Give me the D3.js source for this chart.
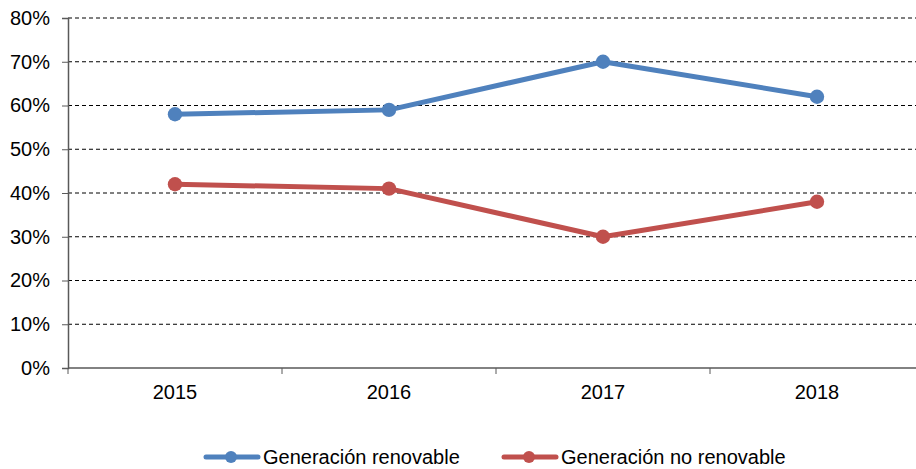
<!DOCTYPE html>
<html>
<head>
<meta charset="utf-8">
<script src="https://cdn.jsdelivr.net/npm/d3@7"></script>
<style>
  body { margin: 0; background: #fff; }
  svg { display: block; font-family: "Liberation Sans", Arial, sans-serif; }
</style>
</head>
<body>
<svg width="916" height="469"></svg>
<script>
var width = 916;
var height = 469;
var margin = {left: 68, top: 18, right: -8, bottom: 101};

// data
var years = ["2015", "2016", "2017", "2018"];
var renovable = [58, 59, 70, 62];
var noRenovable = [42, 41, 30, 38];
var yTicks = [0, 10, 20, 30, 40, 50, 60, 70, 80];
var seriesNames = ["Generación renovable", "Generación no renovable"];
var seriesColors = ["#4F81BD", "#C0504D"];

var svg = d3.select("svg");

var x = d3.scaleBand().domain(years).range([margin.left, width - margin.right]);
var y = d3.scaleLinear().domain([0, 80]).range([height - margin.bottom, margin.top]);

// gridlines
svg.append("g")
  .selectAll("line")
  .data(yTicks.slice(1))
  .enter()
  .append("line")
  .attr("x1", margin.left)
  .attr("x2", width)
  .attr("y1", function (d) { return y(d); })
  .attr("y2", function (d) { return y(d); })
  .attr("stroke", "#000")
  .attr("stroke-width", 1)
  .style("stroke-dasharray", "4,3");

// y axis
var axisLeft = d3.axisLeft(y).tickValues(yTicks).tickSize(6).tickPadding(12)
  .tickFormat(function (d) { return d + "%"; });
var gy = svg.append("g")
  .attr("transform", "translate(" + margin.left + ",0)")
  .call(axisLeft);
gy.select(".domain").attr("stroke", "#595959").attr("stroke-width", 1.5);
gy.selectAll(".tick line").attr("stroke", "#595959");
gy.selectAll("text").style("font-size", "20px").attr("fill", "#000");

// x axis
var gx = svg.append("g")
  .attr("transform", "translate(0," + y(0) + ")");
gx.append("line")
  .attr("x1", margin.left).attr("x2", width)
  .attr("stroke", "#595959").attr("stroke-width", 1.5);
gx.selectAll(".xt")
  .data(years.slice(1))
  .enter()
  .append("line")
  .attr("x1", function (d) { return x(d); })
  .attr("x2", function (d) { return x(d); })
  .attr("y1", 0).attr("y2", 6)
  .attr("stroke", "#595959");
gx.append("line")
  .attr("x1", margin.left).attr("x2", margin.left)
  .attr("y1", 0).attr("y2", 6)
  .attr("stroke", "#595959");
gx.selectAll(".xl")
  .data(years)
  .enter()
  .append("text")
  .attr("x", function (d) { return x(d) + x.bandwidth() / 2; })
  .attr("y", 31)
  .attr("text-anchor", "middle")
  .style("font-size", "20px")
  .text(function (d) { return d; });

// lines
var series = [renovable, noRenovable];
var line = d3.line()
  .x(function (d, i) { return x(years[i]) + x.bandwidth() / 2; })
  .y(function (d) { return y(d); });

series.forEach(function (values, k) {
  svg.append("path")
    .datum(values)
    .attr("d", line)
    .attr("fill", "none")
    .attr("stroke", seriesColors[k])
    .attr("stroke-width", 5)
    .attr("stroke-linejoin", "round");
  svg.selectAll(".pt" + k)
    .data(values)
    .enter()
    .append("circle")
    .attr("cx", function (d, i) { return x(years[i]) + x.bandwidth() / 2; })
    .attr("cy", function (d) { return y(d); })
    .attr("r", 7.2)
    .attr("fill", seriesColors[k]);
});

// legend
var legendX = [204, 502];
var legend = svg.selectAll(".legend")
  .data(seriesNames)
  .enter()
  .append("g")
  .attr("transform", function (d, i) { return "translate(" + legendX[i] + ",457)"; });
legend.append("line")
  .attr("x1", 2).attr("x2", 54)
  .attr("stroke", function (d, i) { return seriesColors[i]; })
  .attr("stroke-width", 5)
  .attr("stroke-linecap", "round");
legend.append("circle")
  .attr("cx", 27).attr("r", 6)
  .attr("fill", function (d, i) { return seriesColors[i]; });
legend.append("text")
  .attr("x", 59)
  .attr("y", 7)
  .style("font-size", "20px")
  .text(function (d) { return d; });
</script>
</body>
</html>
